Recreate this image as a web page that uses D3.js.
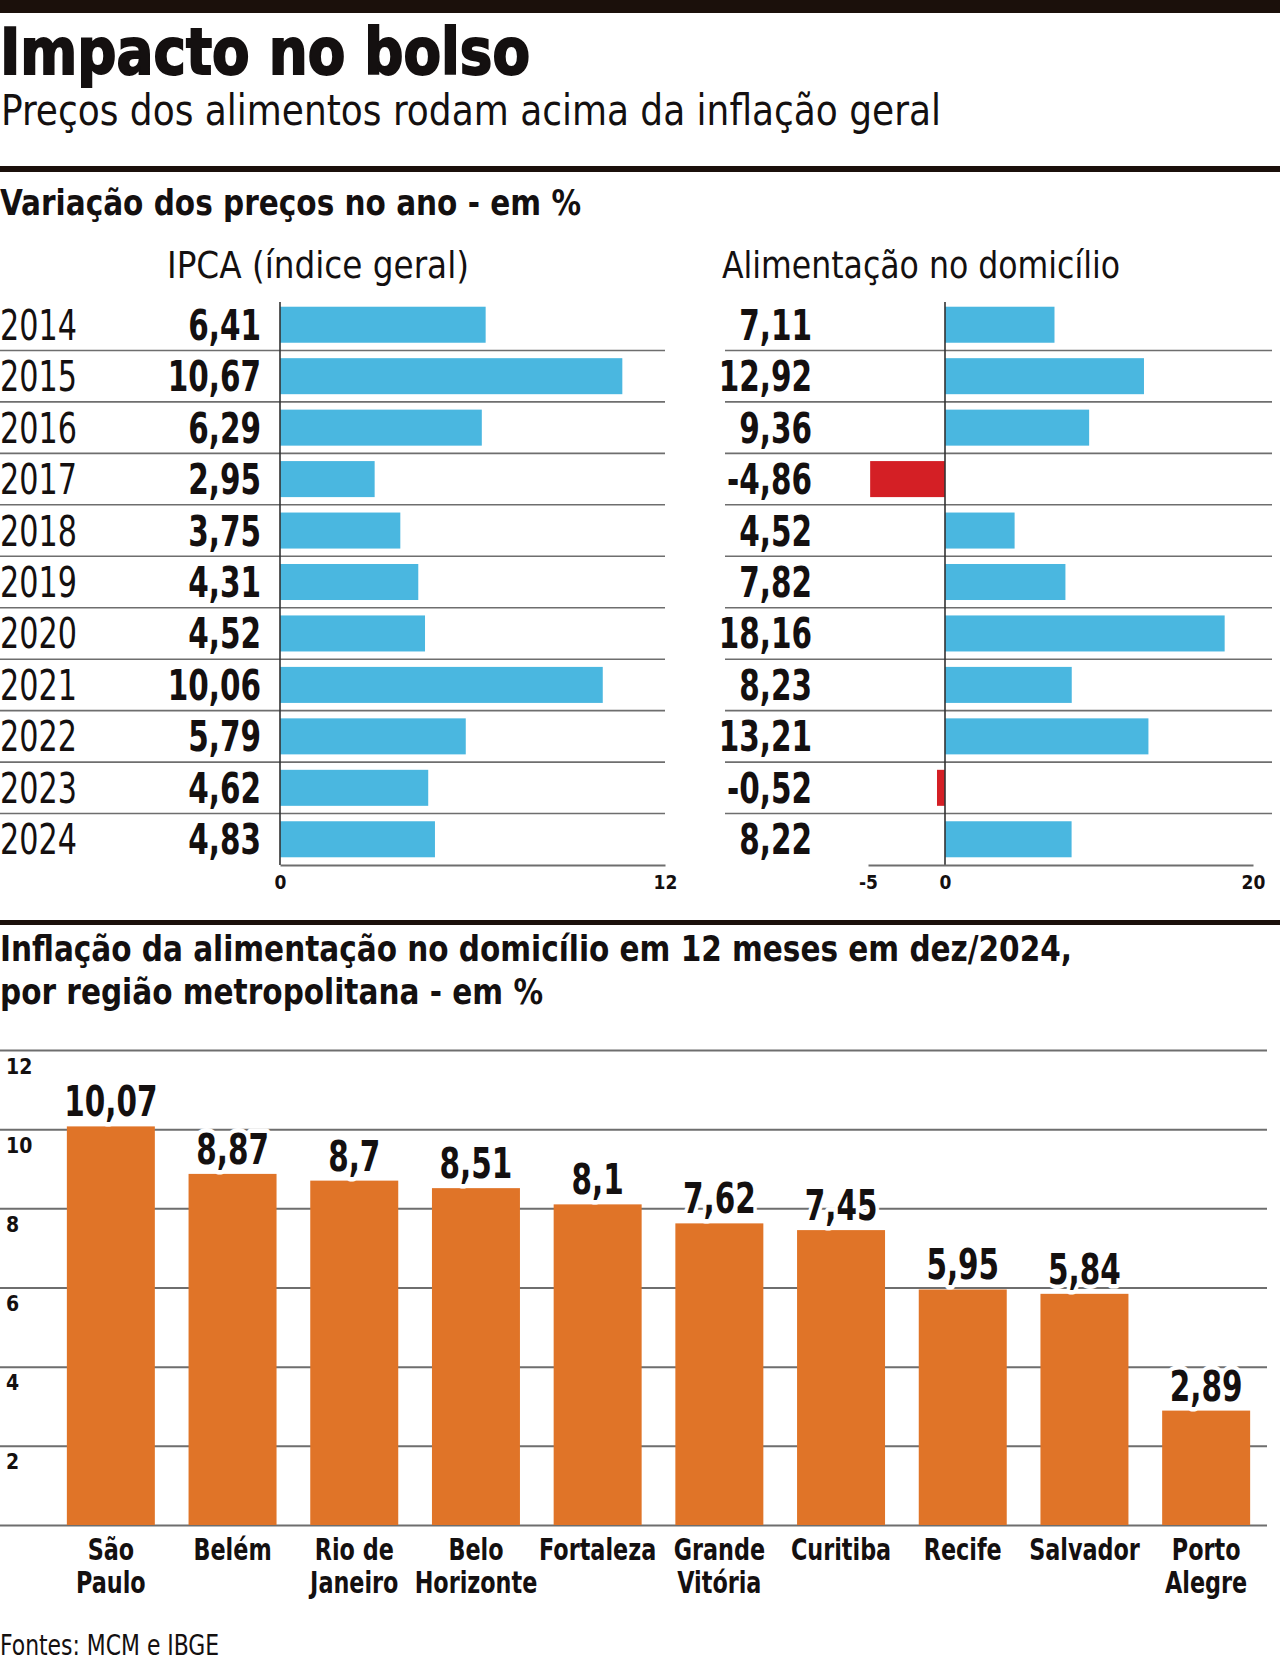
<!DOCTYPE html>
<html><head><meta charset="utf-8">
<script src="https://cdn.jsdelivr.net/npm/d3@7"></script>
<style>
html,body{margin:0;padding:0;background:#fff;}
svg{display:block;}
text{font-family:"Liberation Sans Narrow","DejaVu Sans Condensed","Liberation Sans",sans-serif;fill:#141010;}
</style></head>
<body>
<svg id="chart" width="1280" height="1662"></svg>
<script>
// ---- data ----
const years = [2014,2015,2016,2017,2018,2019,2020,2021,2022,2023,2024];
const ipca = [6.41,10.67,6.29,2.95,3.75,4.31,4.52,10.06,5.79,4.62,4.83];
const alimentacao = [7.11,12.92,9.36,-4.86,4.52,7.82,18.16,8.23,13.21,-0.52,8.22];
const ipcaTicks = [0,12];
const alimTicks = [-5,0,20];
const regions = ["São Paulo","Belém","Rio de Janeiro","Belo Horizonte","Fortaleza","Grande Vitória","Curitiba","Recife","Salvador","Porto Alegre"];
const regionLabels = [["São","Paulo"],["Belém"],["Rio de","Janeiro"],["Belo","Horizonte"],["Fortaleza"],["Grande","Vitória"],["Curitiba"],["Recife"],["Salvador"],["Porto","Alegre"]];
const regionValues = [10.07,8.87,8.7,8.51,8.1,7.62,7.45,5.95,5.84,2.89];
const regionTicks = [0,2,4,6,8,10,12];

const title = "Impacto no bolso";
const subtitle = "Preços dos alimentos rodam acima da inflação geral";
const section1 = "Variação dos preços no ano - em %";
const colLeft = "IPCA (índice geral)";
const colRight = "Alimentação no domicílio";
const section2 = ["Inflação da alimentação no domicílio em 12 meses em dez/2024,","por região metropolitana - em %"];
const source = "Fontes: MCM e IBGE";

// ---- styles ----
const BLUE="#4ab7e0", RED="#d41f25", ORANGE="#e07428", INK="#141010", RULE="#1b100b", GRID="#6e6e6e";
const loc = d3.formatLocale({decimal:",",thousands:".",grouping:[3],currency:["R$",""],minus:"-"});
const fmt = loc.format(".2~f");
const FONT = '"Liberation Sans Narrow","DejaVu Sans Condensed","Liberation Sans",sans-serif';

// horizontally condense text by factor k (keeps anchor)
function condense(sel, k){
  sel.each(function(){
    const w = this.getComputedTextLength();
    d3.select(this).attr("textLength", w*k).attr("lengthAdjust","spacingAndGlyphs");
  });
}

const svg = d3.select("#chart");
svg.append("rect").attr("width",1280).attr("height",1662).attr("fill","#fff");

// header
svg.append("rect").attr("x",0).attr("y",0).attr("width",1280).attr("height",13).attr("fill",RULE);
svg.append("text").attr("x",0).attr("y",74).attr("font-size",64).attr("font-weight","bold")
  .attr("stroke",INK).attr("stroke-width",1.8)
  .attr("textLength",530).attr("lengthAdjust","spacingAndGlyphs").text(title);
svg.append("text").attr("x",1).attr("y",125).attr("font-size",42)
  .attr("textLength",940).attr("lengthAdjust","spacingAndGlyphs").text(subtitle);
svg.append("rect").attr("x",0).attr("y",166).attr("width",1280).attr("height",6).attr("fill",RULE);
svg.append("text").attr("x",0).attr("y",215).attr("font-size",36).attr("font-weight","bold")
  .attr("textLength",581).attr("lengthAdjust","spacingAndGlyphs").text(section1);
svg.append("text").attr("x",167).attr("y",278).attr("font-size",38)
  .attr("textLength",302).attr("lengthAdjust","spacingAndGlyphs").text(colLeft);
svg.append("text").attr("x",722).attr("y",278).attr("font-size",38)
  .attr("textLength",398).attr("lengthAdjust","spacingAndGlyphs").text(colRight);

// ---- top charts ----
const y = d3.scaleBand().domain(years).range([299,865]).paddingInner(0.3).paddingOuter(0.15);
const yRow = d3.scaleBand().domain(years).range([299,865]);
const xL = d3.scaleLinear().domain([0,12]).range([280,665]);
const xR = d3.scaleLinear().domain([-5,20]).range([868,1253]);

// separators
const sepYears = years.slice(1);
svg.append("g").selectAll("line").data(sepYears).join("line")
  .attr("x1",0).attr("x2",665).attr("y1",d=>yRow(d)).attr("y2",d=>yRow(d))
  .attr("stroke",GRID).attr("stroke-width",1.6);
svg.append("g").selectAll("line").data(sepYears).join("line")
  .attr("x1",725).attr("x2",1272).attr("y1",d=>yRow(d)).attr("y2",d=>yRow(d))
  .attr("stroke",GRID).attr("stroke-width",1.6);

// bars
svg.append("g").selectAll("rect").data(years).join("rect")
  .attr("x",xL(0)).attr("y",d=>y(d)).attr("height",y.bandwidth())
  .attr("width",(d,i)=>xL(ipca[i])-xL(0)).attr("fill",BLUE);
svg.append("g").selectAll("rect").data(years).join("rect")
  .attr("x",(d,i)=>xR(Math.min(0,alimentacao[i]))).attr("y",d=>y(d)).attr("height",y.bandwidth())
  .attr("width",(d,i)=>Math.abs(xR(alimentacao[i])-xR(0)))
  .attr("fill",(d,i)=>alimentacao[i]<0?RED:BLUE);

// year labels & values
const rowBase = d => yRow(d)+yRow.bandwidth()/2+15;
svg.append("g").selectAll("text").data(years).join("text")
  .attr("x",0).attr("y",rowBase).attr("font-size",42).text(d=>d).call(condense,0.8);
svg.append("g").selectAll("text").data(years).join("text")
  .attr("x",261).attr("y",rowBase).attr("font-size",42).attr("font-weight","bold")
  .attr("text-anchor","end").text((d,i)=>fmt(ipca[i])).call(condense,0.78);
svg.append("g").selectAll("text").data(years).join("text")
  .attr("x",812).attr("y",rowBase).attr("font-size",42).attr("font-weight","bold")
  .attr("text-anchor","end").text((d,i)=>fmt(alimentacao[i])).call(condense,0.78);

// zero lines
svg.append("line").attr("x1",xL(0)).attr("x2",xL(0)).attr("y1",302).attr("y2",865)
  .attr("stroke","#333").attr("stroke-width",1.6);
svg.append("line").attr("x1",xR(0)).attr("x2",xR(0)).attr("y1",302).attr("y2",865)
  .attr("stroke","#333").attr("stroke-width",1.6);

// x axes
function styleAxis(g){
  g.select(".domain").attr("stroke",GRID).attr("stroke-width",2.2);
  g.selectAll(".tick line").remove();
  g.selectAll(".tick text").attr("font-size",19).attr("font-weight","bold").attr("fill",INK)
    .attr("font-family",FONT).attr("dy","1.1em");
}
svg.append("g").attr("transform","translate(0,865)")
  .call(d3.axisBottom(xL).tickValues(ipcaTicks).tickSize(0).tickFormat(d=>loc.format("d")(d)))
  .call(styleAxis);
svg.append("g").attr("transform","translate(0,865)")
  .call(d3.axisBottom(xR).tickValues(alimTicks).tickSize(0).tickFormat(d=>loc.format("d")(d)))
  .call(styleAxis);

// ---- lower chart ----
svg.append("rect").attr("x",0).attr("y",920).attr("width",1280).attr("height",5).attr("fill",RULE);
svg.append("g").selectAll("text").data(section2).join("text")
  .attr("x",0).attr("y",(d,i)=>961+i*43).attr("font-size",36).attr("font-weight","bold")
  .attr("textLength",(d,i)=>i===0?1072:543).attr("lengthAdjust","spacingAndGlyphs").text(d=>d);

const yB = d3.scaleLinear().domain([0,12]).range([1525,1050]);
const xB = d3.scaleBand().domain(regions).range([50,1267]).paddingInner(0.277).paddingOuter(0.1385);

const gAxis = svg.append("g").call(d3.axisRight(yB).tickValues(regionTicks).tickSize(1267).tickFormat(d=>d===0?"":loc.format("d")(d)));
gAxis.select(".domain").remove();
gAxis.selectAll(".tick line").attr("stroke",GRID).attr("stroke-width",2);
gAxis.selectAll(".tick text").attr("x",6).attr("dy",23).attr("text-anchor","start")
  .attr("font-size",21).attr("font-weight","bold").attr("fill",INK)
  .attr("font-family",FONT);

svg.append("g").selectAll("rect").data(regions).join("rect")
  .attr("x",d=>xB(d)).attr("width",xB.bandwidth())
  .attr("y",(d,i)=>yB(regionValues[i])).attr("height",(d,i)=>yB(0)-yB(regionValues[i]))
  .attr("fill",ORANGE);

svg.append("g").selectAll("text").data(regions).join("text")
  .attr("x",d=>xB(d)+xB.bandwidth()/2).attr("y",(d,i)=>yB(regionValues[i])-10)
  .attr("text-anchor","middle").attr("font-size",42).attr("font-weight","bold")
  .attr("stroke","#fff").attr("stroke-width",9).attr("paint-order","stroke").attr("stroke-linejoin","round")
  .text((d,i)=>fmt(regionValues[i])).call(condense,0.78);

const catLines = [];
regions.forEach((r,i)=>regionLabels[i].forEach((s,j)=>catLines.push({region:r,text:s,line:j})));
svg.append("g").selectAll("text").data(catLines).join("text")
  .attr("transform",d=>`translate(${xB(d.region)+xB.bandwidth()/2},${1560+d.line*33}) scale(0.8,1)`)
  .attr("text-anchor","middle").attr("font-size",31).attr("font-weight","bold")
  .text(d=>d.text);

svg.append("text").attr("transform","translate(0,1655) scale(0.84,1)").attr("font-size",29).text(source);
</script>
</body></html>
